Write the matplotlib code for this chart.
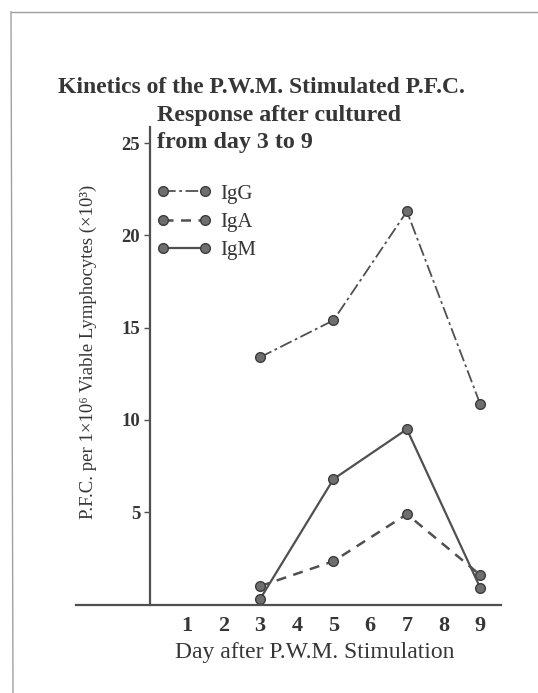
import matplotlib
matplotlib.use("Agg")
import matplotlib.pyplot as plt
from matplotlib.lines import Line2D

# values
days = [3, 5, 7, 9]
igg = [13.4, 15.4, 21.3, 10.85]
iga = [1.0, 2.35, 4.9, 1.6]
igm = [0.3, 6.8, 9.5, 0.9]

x_ticks = [1, 2, 3, 4, 5, 6, 7, 8, 9]
y_ticks = [5, 10, 15, 20, 25]

ink = "#363636"
line_col = "#505050"
serif = ["Liberation Serif", "DejaVu Serif"]
plt.rcParams["font.family"] = serif

W, H = 538, 693
fig = plt.figure(figsize=(W / 100, H / 100), dpi=100)

# axes box in pixels: left 76, right 501, bottom 604.6, top 127
ax = fig.add_axes([76 / W, (H - 604.6) / H, (501 - 76) / W, (604.6 - 127) / H])
ax.set_xlim(-2.016, 9.564)
ax.set_ylim(0, 25.87)

for s in ["top", "right"]:
    ax.spines[s].set_visible(False)
ax.spines["left"].set_position(("data", 0))
for s in ["left", "bottom"]:
    ax.spines[s].set_color(line_col)
    ax.spines[s].set_linewidth(1.6)

mk = dict(marker="o", markersize=7, markerfacecolor="#6e6e6e",
          markeredgecolor="#3c3c3c", markeredgewidth=1.0, color=line_col)
ax.plot(days, igg, linestyle=(0, (7, 2, 1.5, 2)), linewidth=1.3, **mk)
ax.plot(days, iga, linestyle=(0, (4, 3)), linewidth=1.8, **mk)
ax.plot(days, igm, linestyle="-", linewidth=1.6, **mk)

ax.set_xticks(x_ticks)
ax.set_xticklabels([str(d) for d in x_ticks])
ax.set_yticks(y_ticks)
ax.set_yticklabels([str(v) for v in y_ticks])
ax.tick_params(axis="x", length=0, pad=8, labelsize=16, labelcolor=ink)
ax.tick_params(axis="y", length=4, width=1, color=line_col, pad=3,
               labelsize=13.5, labelcolor=ink)
for t in ax.get_xticklabels() + ax.get_yticklabels():
    t.set_fontweight("bold")

ax.set_xlabel("Day after P.W.M. Stimulation", fontsize=17, color=ink)
ax.xaxis.set_label_coords((315 - 76) / 425, (604.6 - 652.6) / 477.6)
ax.xaxis.label.set_va("center")

ax.set_ylabel("P.F.C. per 1\u00d710\u2076 Viable Lymphocytes (\u00d710\u00b3)",
              fontsize=13.5, color=ink)
ax.yaxis.set_label_coords((88 - 76) / 425, (604.6 - 352) / 477.6)
ax.yaxis.label.set_va("center")

handles = [
    Line2D([], [], linestyle=(0, (7, 2, 1.5, 2)), linewidth=1.3, **mk),
    Line2D([], [], linestyle=(0, (4, 3)), linewidth=1.8, **mk),
    Line2D([], [], linestyle="-", linewidth=1.6, **mk),
]
leg = ax.legend(handles, ["IgG", "IgA", "IgM"], loc="upper left",
                bbox_to_anchor=(157 / W, (H - 184) / H),
                bbox_transform=fig.transFigure, frameon=False,
                fontsize=15, numpoints=2, handlelength=2.6,
                handletextpad=0.45, labelspacing=0.42, borderpad=0,
                borderaxespad=0)
for t in leg.get_texts():
    t.set_color(ink)

fig.text(261 / W, 1 - 87.5 / H, "Kinetics of the P.W.M. Stimulated P.F.C.",
         ha="center", va="center", fontsize=17, fontweight="bold", color=ink)
fig.text(157 / W, 1 - 115 / H, "Response after cultured",
         ha="left", va="center", fontsize=17.3, fontweight="bold", color=ink)
fig.text(157 / W, 1 - 142.5 / H, "from day 3 to 9",
         ha="left", va="center", fontsize=17.3, fontweight="bold", color=ink)

# faint border of the scanned page
fig.add_artist(Line2D([11 / W, 1], [1 - 12 / H, 1 - 12 / H],
                      transform=fig.transFigure, color="#a0a0a0", linewidth=1))
fig.add_artist(Line2D([11 / W, 13 / W], [1 - 12 / H, 0],
                      transform=fig.transFigure, color="#a0a0a0", linewidth=1))

fig.savefig("out.png", dpi=100)
